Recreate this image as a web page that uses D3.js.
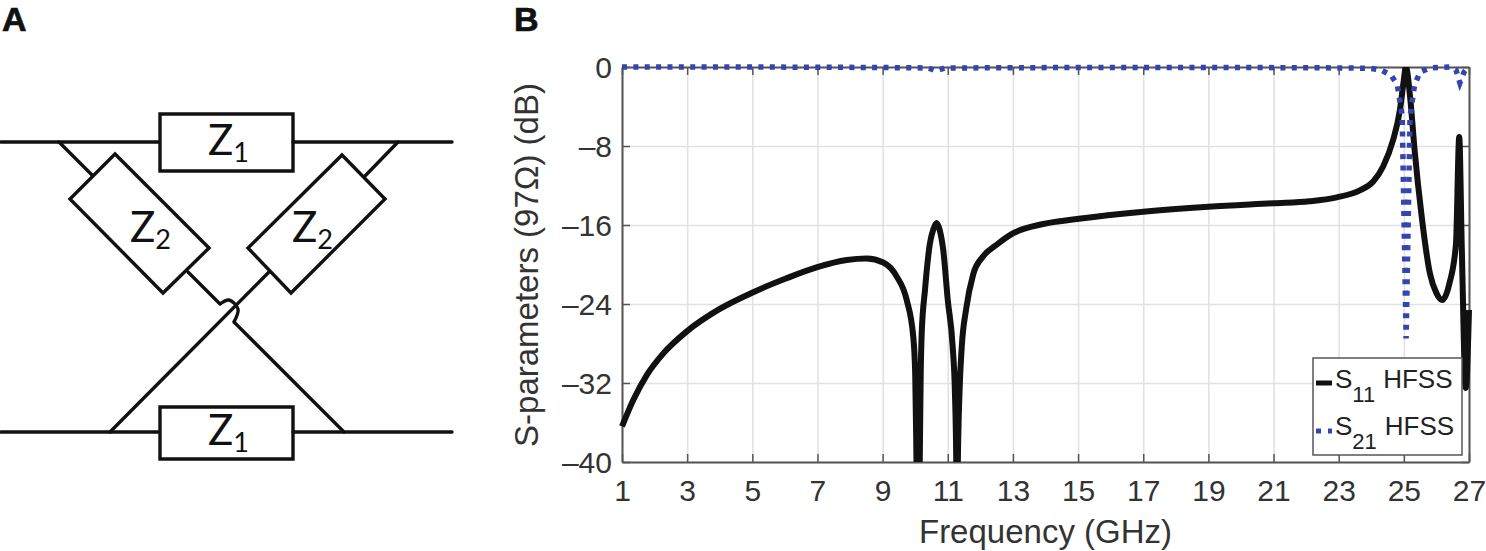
<!DOCTYPE html>
<html>
<head>
<meta charset="utf-8">
<script src="https://cdn.jsdelivr.net/npm/d3@7"></script>
<style>
    html, body { margin: 0; padding: 0; background: #fff; }
    svg { display: block; }
    text { font-family: "Liberation Sans", Arial, sans-serif; }
</style>
</head>
<body>
<div id="chart"></div>
<script>
// values
var freqS11 = [1, 1.35, 1.76, 2.27, 2.98, 4, 5.03, 6.05, 6.97, 7.9, 8.51, 9.02, 9.43, 9.74, 9.94, 10, 10.04, 10.09, 10.14, 10.17, 10.2, 10.3, 10.45, 10.56, 10.66, 10.76, 10.86, 11, 11.15, 11.22, 11.26, 11.28, 11.31, 11.36, 11.43, 11.56, 11.78, 12.08, 12.5, 13, 13.93, 14.96, 17, 19, 21, 22.1, 22.94, 23.65, 24.06, 24.36, 24.67, 24.88, 25, 25.06, 25.2, 25.33, 25.55, 25.8, 26, 26.18, 26.4, 26.6, 26.7, 26.78, 26.9, 27];
var s11 = [-36.4, -33.7, -31.2, -29, -26.8, -24.5, -22.8, -21.4, -20.3, -19.55, -19.4, -19.8, -21.2, -23.6, -27.3, -31, -40, -52, -40, -31, -27, -22.6, -17.9, -16.4, -15.8, -16.6, -18.5, -23.6, -28.3, -33, -40, -50, -40, -33, -28.3, -24.6, -21, -19.2, -18, -16.85, -15.9, -15.4, -14.65, -14.15, -13.8, -13.6, -13.2, -12.5, -11.6, -10.1, -7.4, -4.35, -1.3, 0, -3.3, -8.4, -15.2, -20.9, -22.9, -23.6, -21.9, -17.9, -7.1, -18.5, -32.5, -24.6];
var freqS21 = [1, 5, 9, 10.4, 10.65, 10.9, 15, 20, 23.5, 24, 24.3, 24.6, 24.8, 24.95, 25.07, 25.19, 25.33, 25.5, 25.8, 26.4, 26.6, 26.72, 26.85, 27];
var s21 = [0, 0, -0.05, -0.1, -0.4, -0.1, -0.05, -0.05, -0.1, -0.15, -0.3, -0.8, -1.8, -5, -27.5, -5, -1.8, -0.5, -0.1, 0, -0.3, -1.6, -0.5, 0];
var s21DipIndex = 14;
var xTicks = [1, 3, 5, 7, 9, 11, 13, 15, 17, 19, 21, 23, 25, 27];
var yTicks = [0, -8, -16, -24, -32, -40];
var legendNames = ["11", "21"];

// panel A wiring, pixel nodes of the schematic
var wires = [
    [[1, 142], [159, 142]],
    [[293, 142], [452, 142]],
    [[1, 432], [159, 432]],
    [[293, 432], [452, 432]],
    [[59, 142], [92, 175]],
    [[398, 142], [365, 176]],
    [[188, 272], [220, 304]],
    [[269, 272], [110, 432]],
    [[234, 322], [344, 432]]
];
var boxes = [
    [[160, 114], [293, 114], [293, 171], [160, 171]],
    [[160, 407], [293, 407], [293, 459], [160, 459]],
    [[115, 154], [70, 199], [163, 293], [209, 248]],
    [[342, 155], [385, 199], [291, 293], [248, 248]]
];
var hop = [[220, 304], [229, 300], [238, 309], [234, 322]];
var boxLabels = [
    { x: 208, y: 155, sub: "1" },
    { x: 208, y: 445, sub: "1" },
    { x: 130, y: 242, sub: "2" },
    { x: 292, y: 242, sub: "2" }
];

var svgWidth = 1486;
var svgHeight = 551;
var margin = { top: 67, bottom: 89, right: 17, left: 622 };
var width = svgWidth - margin.left - margin.right;
var height = svgHeight - margin.top - margin.bottom;

var svg = d3.select("#chart").append("svg")
    .attr("width", svgWidth)
    .attr("height", svgHeight);

// panel letters
svg.selectAll(".letter").data([["A", 2], ["B", 514]]).enter().append("text")
    .attr("class", "letter")
    .attr("x", d => d[1])
    .attr("y", 31)
    .attr("font-size", 34)
    .attr("font-weight", "bold")
    .attr("fill", "#111")
    .attr("stroke", "#111")
    .attr("stroke-width", 0.7)
    .text(d => d[0]);

// ---- panel A
var schematic = svg.append("g")
    .attr("fill", "none")
    .attr("stroke", "#111")
    .attr("stroke-width", 3.4);
var wireLine = d3.line();
schematic.selectAll(".wire").data(wires).enter().append("path")
    .attr("class", "wire")
    .attr("stroke-linecap", "round")
    .attr("d", wireLine);
schematic.selectAll(".box").data(boxes).enter().append("path")
    .attr("class", "box")
    .attr("d", d => wireLine(d) + "Z");
schematic.append("path").attr("d", d3.line().curve(d3.curveCatmullRom)(hop));

var zLabels = svg.selectAll(".zlabel").data(boxLabels).enter().append("text")
    .attr("class", "zlabel")
    .attr("x", d => d.x)
    .attr("y", d => d.y)
    .attr("fill", "#111")
    .style("font-family", "Lato")
    .style("font-size", "42px");
zLabels.append("tspan").text("Z");
zLabels.append("tspan").attr("dy", 7).style("font-size", "27px").text(d => d.sub);

// ---- panel B
var chartGroup = svg.append("g")
    .attr("transform", `translate(${margin.left}, ${margin.top})`);

var xScale = d3.scaleLinear().domain([1, 27]).range([0, width]);
var yScale = d3.scaleLinear().domain([-40, 0]).range([height, 0]);

// grid
chartGroup.append("g")
    .attr("class", "grid")
    .attr("transform", `translate(0, ${height})`)
    .call(d3.axisBottom(xScale).tickValues(xTicks).tickSize(-height).tickFormat(""));
chartGroup.append("g")
    .attr("class", "grid")
    .call(d3.axisLeft(yScale).tickValues(yTicks).tickSize(-width).tickFormat(""));
chartGroup.selectAll(".grid .domain").remove();
chartGroup.selectAll(".grid line").attr("stroke", "#e2e2e2").attr("stroke-width", 1.6);

// axes
var fmt = d => String(d).replace("-", "\u2013");
var xAxis = chartGroup.append("g")
    .attr("transform", `translate(0, ${height})`)
    .call(d3.axisBottom(xScale).tickValues(xTicks).tickSizeInner(-8).tickSizeOuter(0).tickPadding(17.5).tickFormat(fmt));
var yAxis = chartGroup.append("g")
    .call(d3.axisLeft(yScale).tickValues(yTicks).tickSizeInner(-8).tickSizeOuter(0).tickPadding(10).tickFormat(fmt));
var xTop = chartGroup.append("g")
    .call(d3.axisTop(xScale).tickValues(xTicks).tickSizeInner(-8).tickSizeOuter(0).tickFormat(""));
var yRight = chartGroup.append("g")
    .attr("transform", `translate(${width}, 0)`)
    .call(d3.axisRight(yScale).tickValues(yTicks).tickSizeInner(-8).tickSizeOuter(0).tickFormat(""));

[xAxis, yAxis, xTop, yRight].forEach(a => {
    a.selectAll(".domain").attr("stroke", "#555").attr("stroke-width", 2);
    a.selectAll("line").attr("stroke", "#555").attr("stroke-width", 1.5);
    a.selectAll("text").attr("fill", "#333").style("font-family", '"Liberation Sans"').style("font-size", "30px");
});
yAxis.selectAll("text").attr("dy", "0.36em");

chartGroup.append("text")
    .attr("x", 423.5)
    .attr("y", 476)
    .attr("text-anchor", "middle")
    .attr("fill", "#333")
    .style("font-size", "33px")
    .text("Frequency (GHz)");
chartGroup.append("text")
    .attr("transform", "translate(-84, 198) rotate(-90)")
    .attr("text-anchor", "middle")
    .attr("fill", "#333")
    .style("font-size", "33px")
    .text("S-parameters (97\u03a9) (dB)");

// legend goes under the curves
var legend = svg.append("g").attr("transform", "translate(1313, 358)");
legend.append("rect")
    .attr("width", 149).attr("height", 97)
    .attr("fill", "#fff").attr("stroke", "#555").attr("stroke-width", 1.5);
legend.selectAll(".handle").data(legendNames).enter().append("line")
    .attr("class", "handle")
    .attr("x1", 3).attr("x2", 19)
    .attr("y1", (d, i) => 25 + i * 48).attr("y2", (d, i) => 25 + i * 48)
    .attr("stroke", (d, i) => i == 0 ? "#111" : "#3545ae")
    .attr("stroke-width", 5)
    .attr("stroke-dasharray", (d, i) => i == 0 ? null : "5 7");
var legendText = legend.selectAll(".ltext").data(legendNames).enter().append("text")
    .attr("class", "ltext")
    .attr("x", 22)
    .attr("y", (d, i) => 30 + i * 47)
    .attr("fill", "#222")
    .style("font-size", "26px");
legendText.append("tspan").text("S");
legendText.append("tspan").attr("dy", 14).style("font-size", "22px").text(d => d);
legendText.append("tspan").attr("dy", -14).attr("dx", 8).text("HFSS");

// S11 is cut at the top and bottom axes, S21 only at the bottom
svg.append("clipPath").attr("id", "clipS11").append("rect")
    .attr("x", -10).attr("y", 0).attr("width", width + 30).attr("height", height);
svg.append("clipPath").attr("id", "clipS21").append("rect")
    .attr("x", -10).attr("y", -10).attr("width", width + 30).attr("height", height + 10);

var lineS11 = d3.line()
    .x((d, i) => xScale(freqS11[i]))
    .y(d => yScale(d))
    .curve(d3.curveMonotoneX);
var lineS21 = d3.line()
    .x((d, i) => xScale(freqS21[i]))
    .y(d => yScale(d));

chartGroup.append("path")
    .datum(s11)
    .attr("clip-path", "url(#clipS11)")
    .attr("d", lineS11)
    .attr("fill", "none")
    .attr("stroke", "#111")
    .attr("stroke-width", 6);

// period picked so the dots going down and coming back up the dip land on each other
var probe = chartGroup.append("path").attr("d", lineS21(s21.slice(0, s21DipIndex + 1)));
var toDip = probe.node().getTotalLength() - 2.5;
probe.remove();
var dotPeriod = toDip / Math.round(toDip / 11.4);

chartGroup.append("path")
    .datum(s21)
    .attr("clip-path", "url(#clipS21)")
    .attr("d", lineS21)
    .attr("fill", "none")
    .attr("stroke", "#3545ae")
    .attr("stroke-width", 5.5)
    .attr("stroke-dasharray", `5 ${dotPeriod - 5}`);
</script>
</body>
</html>
